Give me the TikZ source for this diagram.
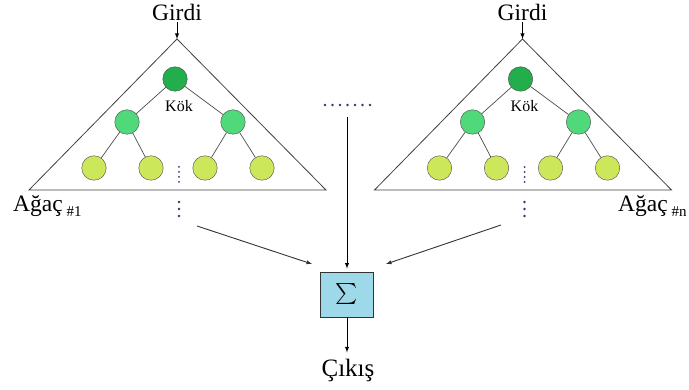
\documentclass[tikz,border=0pt]{standalone}
\usepackage{fontspec}
\setmainfont{Liberation Serif}
\usetikzlibrary{arrows}
\definecolor{kokyesil}{HTML}{22AE4B}
\definecolor{dalyesil}{HTML}{50D97B}
\definecolor{yaprakyesil}{HTML}{CDE75A}
\definecolor{toplammavi}{HTML}{9DD9E9}
\definecolor{noktarenk}{HTML}{2A3A6A}

\begin{document}
\begin{tikzpicture}[
	x=1pt, y=-1pt,
	dugum/.style={
		draw=black!70,
		circle,
		minimum size=24.5pt,
		inner sep=0pt
	},
	kok/.style={dugum, fill=kokyesil},
	dal/.style={dugum, fill=dalyesil},
	yaprak/.style={dugum, fill=yaprakyesil},
	kenar/.style={draw=black!70, line width=0.7pt},
	ok/.style={-latex, line width=0.9pt},
	buyuk/.style={font=\fontsize{23.5}{26}\selectfont, inner sep=1pt},
	nokta/.style={circle, fill=noktarenk, inner sep=0pt, minimum size=2.8pt}
	]
	
	\useasboundingbox (0,0) rectangle (689,390);
	
	% iki agac, ikincisi saga kaydirilmis
	\foreach \t/\dx in {1/0, n/345.5} {
	\begin{scope}[xshift=\dx pt]
		\coordinate (tepe\t) at (177,39);
		\draw[black!75, line width=0.8pt] (tepe\t) -- (29,190) -- (326,190) -- cycle;
		
		\node[buyuk, anchor=base] 
		(girdi\t) at (177,21) {Girdi};
		\draw[ok] (girdi\t) -- (tepe\t);
		
		\node[kok] (kok\t) at (175,79) {};
		\node[dal] (dalA\t) at (127,122) {};
		\node[dal] (dalB\t) at (233,122) {};
		\node[yaprak] (yA\t) at (94,168) {};
		\node[yaprak] (yB\t) at (151,168) {};
		\node[yaprak] (yC\t) at (205,168) {};
		\node[yaprak] (yD\t) at (262,168) {};
		
		\node[font=\fontsize{16}{18}\selectfont, anchor=base] 
		(kokyazi\t) at (179,112) {Kök};
		
		\draw[kenar] (kok\t) -- (dalA\t);
		\draw[kenar] (kok\t) -- (dalB\t);
		\draw[kenar] (dalA\t) -- (yA\t);
		\draw[kenar] (dalA\t) -- (yB\t);
		\draw[kenar] (dalB\t) -- (yC\t);
		\draw[kenar] (dalB\t) -- (yD\t);
		
		% yapraklar arasi ve alttaki noktalar
		\foreach \y in {167,172,177,182}
			\node[nokta, minimum size=2pt] at (179,\y) {};
		\foreach \y in {202,209,216}
			\node[nokta] at (179,\y) {};
	\end{scope}
	}
	
	\node[buyuk, anchor=base west] 
	(agac1) at (12,212) {Ağaç\,\raisebox{-5pt}{\fontsize{15}{16}\selectfont\#1}};
	\node[buyuk, anchor=base west] 
	(agacn) at (617,212) {Ağaç\,\raisebox{-5pt}{\fontsize{15}{16}\selectfont\#n}};
	
	% aradaki agaclar
	\foreach \k in {0,...,6}
		\node[nokta] at (325+7.5*\k,105) {};
	
	\node[draw=black!80, fill=toplammavi, line width=0.8pt,
		minimum width=53pt, minimum height=45pt, inner sep=0pt] 
	(toplam) at (347,294.5) {\scalebox{2.1}{$\sum$}};
	
	\node[buyuk, font=\fontsize{25}{28}\selectfont, anchor=base, inner sep=7pt] 
	(cikis) at (348,377) {Çıkış};
	
	\coordinate (ust) at (347,117);
	\coordinate (solbas) at (197,226);
	\coordinate (solson) at (312,264);
	\coordinate (sagbas) at (501,225);
	\coordinate (sagson) at (386,264);
	
	\draw[ok, shorten >=3pt] (ust) -- (toplam);
	\draw[ok, black!80] (solbas) -- (solson);
	\draw[ok, black!80] (sagbas) -- (sagson);
	\draw[ok] (toplam.south) -- (toplam.south |- cikis.north);
	
\end{tikzpicture}
\end{document}
